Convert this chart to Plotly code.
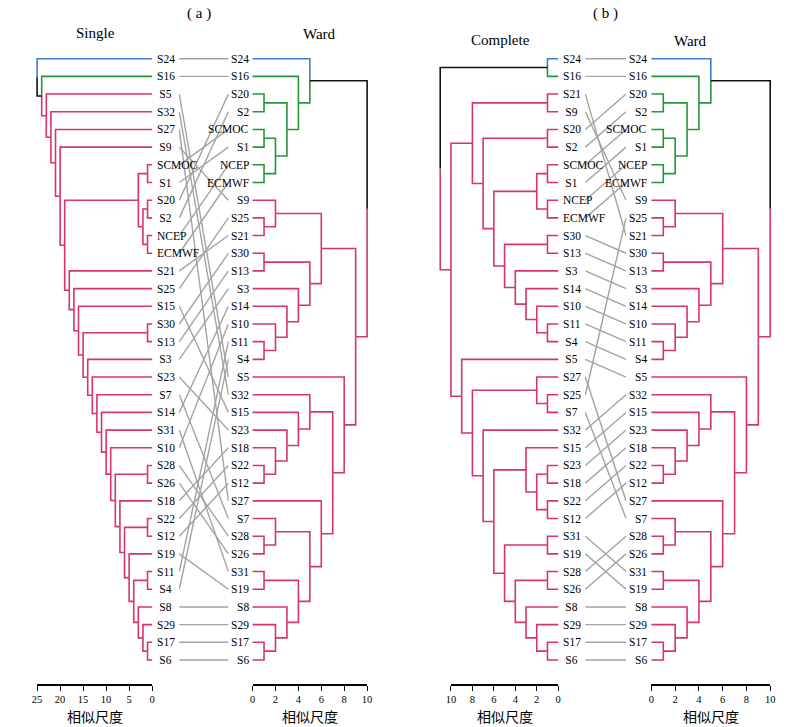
import plotly.graph_objects as go

W, H = 800, 727

# ---------------- data ----------------
# trees: (merge_height, left_child, right_child); leaves are names
single_tree = (25, "S24", (24, "S16", (23, "S5", (22, "S32", (21, "S27", (20, "S9", (19,
    (3, (1, "SCMOC", "S1"), (2, (1, "S20", "S2"), (1, "NCEP", "ECMWF"))),
    (18, "S21", (17, "S25", (16, "S15", (15, (1, "S30", "S13"), (14, "S3", (13, "S23", (12, "S7",
        (11, "S14", (10, "S31", (9, "S10", (8, (1, "S28", "S26"), (7, "S18", (6, (1, "S22", "S12"),
            (5, "S19", (4, (1, "S11", "S4"), (3, "S8", (2, "S29", (1, "S17", "S6")))))))))))))))))
))))))))

ward_tree = (10,
    (5, "S24", (4, "S16", (3, (1, "S20", "S2"), (2, (1, "SCMOC", "S1"), (1, "NCEP", "ECMWF"))))),
    (9,
        (6, (2, "S9", (1, "S25", "S21")),
            (5, (1, "S30", "S13"), (4, "S3", (3, "S14", (2, "S10", (1, "S11", "S4")))))),
        (8, "S5", (7,
            (5, "S32", (4, "S15", (3, "S23", (2, "S18", (1, "S22", "S12"))))),
            (6, "S27", (5, (2, "S7", (1, "S28", "S26")),
                (4, (1, "S31", "S19"), (3, "S8", (2, "S29", (1, "S17", "S6")))))))))
)

complete_tree = (11, (1, "S24", "S16"), (10,
    (8, (1, "S21", "S9"), (7, (1, "S20", "S2"), (6,
        (2, (1, "SCMOC", "S1"), (1, "NCEP", "ECMWF")),
        (5, (1, "S30", "S13"), (4, "S3", (3, "S14", (2, "S10", (1, "S11", "S4")))))))),
    (9, "S5", (8, (2, "S27", (1, "S25", "S7")), (7, "S32", (6,
        (3, "S15", (2, (1, "S23", "S18"), (1, "S22", "S12"))),
        (5, (1, "S31", "S19"), (4, (1, "S28", "S26"), (3, "S8", (2, "S29", (1, "S17", "S6"))))))))))
)

blue_leaves = ["S24"]
green_single = ["S16"]
green_complete = ["S16"]
green_ward = ["S16", "S20", "S2", "SCMOC", "S1", "NCEP", "ECMWF"]

single_ticks = [0, 5, 10, 15, 20, 25]
ward_ticks = [0, 2, 4, 6, 8, 10]
complete_ticks = [0, 2, 4, 6, 8, 10]
axis_title = "相似尺度"

# ---------------- style ----------------
BLUE = "#3f7fca"
GREEN = "#23963a"
PINK = "#d6346b"
BLACK = "#111111"
GRAY = "#a3a3a3"
SERIF = "Liberation Serif"
CJK = "Noto Sans CJK SC"
LW = 1.6

Y0, Y1, NLEAF = 58.7, 660.0, 35
DY = (Y1 - Y0) / (NLEAF - 1)
AXIS_Y = 685
AXIS_TITLE_Y = 716


def leaf_order(t, out):
    if isinstance(t, str):
        out.append(t)
    else:
        leaf_order(t[1], out)
        leaf_order(t[2], out)
    return out


def dendro_segments(tree, color_of):
    order = leaf_order(tree, [])
    pos = {n: i for i, n in enumerate(order)}
    segs = {}

    def add(col, pts):
        xs, ys = segs.setdefault(col, ([], []))
        for x, y in pts:
            xs.append(x)
            ys.append(y)
        xs.append(None)
        ys.append(None)

    def walk(t):
        if isinstance(t, str):
            return 0.0, pos[t], color_of(t)
        h, a, b = t
        ca = walk(a)
        cb = walk(b)
        y = (ca[1] + cb[1]) / 2.0
        for ch, cy, ccol in (ca, cb):
            add(ccol, [(h, y), (h, cy), (ch, cy)])
        col = ca[2] if ca[2] == cb[2] else BLACK
        return h, y, col

    walk(tree)
    return order, segs


def colorer(greens):
    def f(n):
        if n in blue_leaves:
            return BLUE
        if n in greens:
            return GREEN
        return PINK
    return f


fig = go.Figure()
layout_axes = {}
annotations = []

# dendrogram placement: (tree, greens, px of value 0, pixels per unit, ticks, label side)
dendros = [
    (single_tree, green_single, 149.0, -4.66, single_ticks, "right"),
    (ward_tree, green_ward, 250.7, 11.6, ward_ticks, "left"),
    (complete_tree, green_complete, 560.2, -10.86, complete_ticks, "right"),
    (ward_tree, green_ward, 654.6, 12.03, ward_ticks, "left"),
]

orders = []
for k, (tree, greens, px0, ppu, ticks, side) in enumerate(dendros):
    vis = k + 1
    drw = k + 5
    order, segs = dendro_segments(tree, colorer(greens))
    orders.append(order)
    hmax = tree[0]
    tmax = max(ticks)
    # visible scale axis
    pa, pb = px0, px0 + ppu * tmax
    dom = sorted([pa / W, pb / W])
    rng = [0, tmax] if ppu > 0 else [tmax, 0]
    layout_axes["xaxis%d" % vis] = dict(
        domain=dom, range=rng, anchor="free", position=1 - AXIS_Y / H,
        tickvals=ticks, ticks="outside", ticklen=5, tickwidth=1.3, tickcolor="black",
        showline=True, linecolor="black", linewidth=1.6, showgrid=False, zeroline=False,
        tickfont=dict(family=SERIF, size=10.5, color="black"),
    )
    annotations.append(dict(x=(dom[0] + dom[1]) / 2, y=1 - AXIS_TITLE_Y / H,
                            xref="paper", yref="paper", text=axis_title, showarrow=False,
                            xanchor="center", yanchor="middle", borderpad=0,
                            font=dict(family=CJK, size=14, color="black")))
    fig.add_trace(go.Scatter(x=[0], y=[-10], mode="markers", marker=dict(opacity=0),
                             xaxis="x%d" % vis, yaxis="y", showlegend=False, hoverinfo="skip"))
    # drawing axis (wider, invisible)
    lo, hi = -1.0, hmax + 1.0
    qa, qb = px0 + ppu * lo, px0 + ppu * hi
    ddom = sorted([qa / W, qb / W])
    drng = [lo, hi] if ppu > 0 else [hi, lo]
    layout_axes["xaxis%d" % drw] = dict(domain=ddom, range=drng, visible=False,
                                        anchor="y", showgrid=False, zeroline=False)
    for col, (xs, ys) in segs.items():
        fig.add_trace(go.Scatter(x=xs, y=ys, mode="lines", line=dict(color=col, width=LW),
                                 xaxis="x%d" % drw, yaxis="y", showlegend=False,
                                 hoverinfo="skip"))
    for i, name in enumerate(order):
        txt = name if len(name) > 2 else "\u2009" + name
        if side == "right":
            annotations.append(dict(x=0, y=i, xref="x%d" % drw, yref="y", text=txt,
                                    xanchor="left", xshift=3, showarrow=False,
                                    font=dict(family=SERIF, size=11.5, color="black")))
        else:
            annotations.append(dict(x=0, y=i, xref="x%d" % drw, yref="y", text=name,
                                    xanchor="right", xshift=-2, showarrow=False,
                                    font=dict(family=SERIF, size=11.5, color="black")))

# connector lines between matching labels
connectors = [(0, 1, 176.0, 226.7, 9), (2, 3, 587.3, 629.3, 10)]
for li, ri, pl, pr, ax in connectors:
    lpos = {n: i for i, n in enumerate(orders[li])}
    rpos = {n: i for i, n in enumerate(orders[ri])}
    xs, ys = [], []
    for n in orders[li]:
        xs += [0, 1, None]
        ys += [lpos[n], rpos[n], None]
    layout_axes["xaxis%d" % ax] = dict(domain=[pl / W, pr / W], range=[-0.01, 1.01],
                                       visible=False, anchor="y")
    fig.add_trace(go.Scatter(x=xs, y=ys, mode="lines", line=dict(color=GRAY, width=1.4),
                             xaxis="x%d" % ax, yaxis="y", showlegend=False, hoverinfo="skip"))

# titles
titles = [("( a )", 196, 13), ("Single", 92, 33), ("Ward", 318, 34),
          ("( b )", 608, 13), ("Complete", 502, 40), ("Ward", 694, 41)]
for txt, px, py in titles:
    annotations.append(dict(x=px / W, y=1 - py / H, xref="paper", yref="paper", text=txt,
                            showarrow=False, xanchor="center", yanchor="middle",
                            font=dict(family=SERIF, size=15, color="black")))

y_lo = (H - Y0) / DY
y_hi = (0 - Y0) / DY
fig.update_layout(
    width=W, height=H, margin=dict(l=0, r=0, t=0, b=0),
    paper_bgcolor="white", plot_bgcolor="rgba(0,0,0,0)",
    yaxis=dict(domain=[0, 1], range=[y_lo, y_hi], visible=False, anchor="x5"),
    annotations=annotations, showlegend=False,
    **layout_axes,
)
fig.write_html("out.html", config={"displayModeBar": False},
               post_script="document.body.style.margin='0';")
